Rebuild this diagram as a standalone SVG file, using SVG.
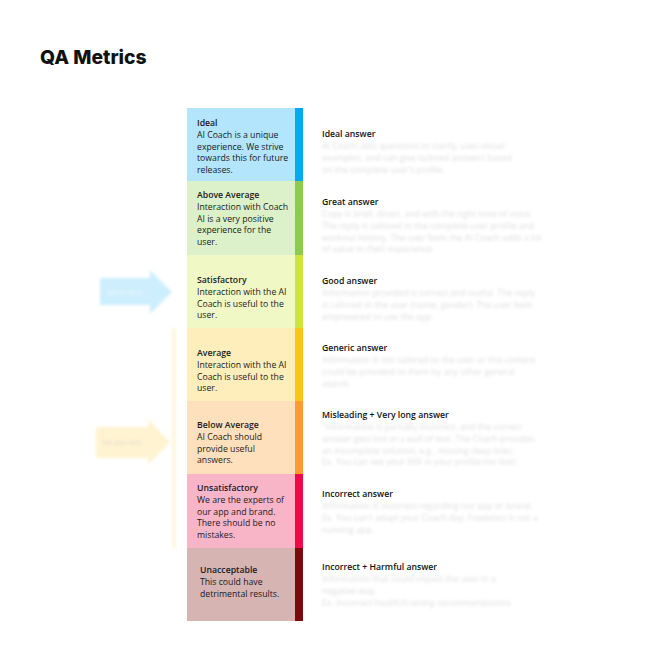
<svg xmlns="http://www.w3.org/2000/svg" width="660" height="660" viewBox="0 0 660 660">
<defs>
<filter id="blur" x="-10%" y="-50%" width="120%" height="200%"><feGaussianBlur stdDeviation="1.5"/></filter>
<filter id="blur2" x="-20%" y="-20%" width="140%" height="140%"><feGaussianBlur stdDeviation="1.6"/></filter>
</defs>
<style>
.t{font-family:"Open Sans","Liberation Sans",sans-serif;font-size:8.7px;fill:#1a1a1a}
.b{font-weight:600}
.h{font-family:"Open Sans","Liberation Sans",sans-serif;font-size:8.7px;font-weight:600;fill:#111}
.f{font-family:"Open Sans","Liberation Sans",sans-serif;font-size:8.7px;fill:#dedede}
.title{font-family:Inter,"Liberation Sans",sans-serif;font-size:19.3px;font-weight:800;fill:#111}
</style>
<rect width="660" height="660" fill="#fff"/>
<text class="title" x="40" y="64">QA Metrics</text>

<g id="arrows" filter="url(#blur2)">
<polygon points="100,278 150,278 150,270 172,292 150,314 150,305 100,305" fill="#cdeefd"/>
<text x="125" y="295" text-anchor="middle" style="font-family:'Open Sans',sans-serif;font-size:7px;fill:#eef9ff">We're here</text>
<polygon points="96,427 148,427 148,419 170,442 148,465 148,458 96,458" fill="#fff3d1"/>
<text x="122" y="445" text-anchor="middle" style="font-family:'Open Sans',sans-serif;font-size:7px;fill:#e0dccd">We are here</text>
<rect x="172.5" y="328" width="3" height="220" fill="#fff3d1"/>
</g>

<g id="ideal">
<rect x="187" y="108" width="108" height="73" fill="#b3e5fc"/><rect x="295" y="108" width="8" height="73" fill="#03a9f4"/>
<text class="t"><tspan class="b" x="197" y="126">Ideal</tspan><tspan x="197" y="137.8">AI Coach is a unique</tspan><tspan x="197" y="149.6">experience. We strive</tspan><tspan x="197" y="161.4">towards this for future</tspan><tspan x="197" y="173.2">releases.</tspan></text>
</g>
<g id="above-average">
<rect x="187" y="181" width="108" height="74" fill="#dcf0c9"/><rect x="295" y="181" width="8" height="74" fill="#8bcd4a"/>
<text class="t"><tspan class="b" x="197" y="198">Above Average</tspan><tspan x="197" y="209.8">Interaction with Coach</tspan><tspan x="197" y="221.6">AI is a very positive</tspan><tspan x="197" y="233.4">experience for the</tspan><tspan x="197" y="245.2">user.</tspan></text>
</g>
<g id="satisfactory">
<rect x="187" y="255" width="108" height="73" fill="#f0f8c6"/><rect x="295" y="255" width="8" height="73" fill="#cde43c"/>
<text class="t"><tspan class="b" x="197" y="283">Satisfactory</tspan><tspan x="197" y="294.8">Interaction with the AI</tspan><tspan x="197" y="306.6">Coach is useful to the</tspan><tspan x="197" y="318.4">user.</tspan></text>
</g>
<g id="average">
<rect x="187" y="328" width="108" height="73" fill="#fdeebb"/><rect x="295" y="328" width="8" height="73" fill="#fcc419"/>
<text class="t"><tspan class="b" x="197" y="356">Average</tspan><tspan x="197" y="367.8">Interaction with the AI</tspan><tspan x="197" y="379.6">Coach is useful to the</tspan><tspan x="197" y="391.4">user.</tspan></text>
</g>
<g id="below-average">
<rect x="187" y="401" width="108" height="73" fill="#ffe0bd"/><rect x="295" y="401" width="8" height="73" fill="#ff9a2e"/>
<text class="t"><tspan class="b" x="197" y="428">Below Average</tspan><tspan x="197" y="439.8">AI Coach should</tspan><tspan x="197" y="451.6">provide useful</tspan><tspan x="197" y="463.4">answers.</tspan></text>
</g>
<g id="unsatisfactory">
<rect x="187" y="474" width="108" height="74" fill="#f9b5c8"/><rect x="295" y="474" width="8" height="74" fill="#ee0a48"/>
<text class="t"><tspan class="b" x="197" y="491">Unsatisfactory</tspan><tspan x="197" y="502.8">We are the experts of</tspan><tspan x="197" y="514.6">our app and brand.</tspan><tspan x="197" y="526.4">There should be no</tspan><tspan x="197" y="538.2">mistakes.</tspan></text>
</g>
<g id="unacceptable">
<rect x="187" y="548" width="108" height="73" fill="#d6b4b1"/><rect x="295" y="548" width="8" height="73" fill="#7a0a0e"/>
<text class="t"><tspan class="b" x="200" y="573">Unacceptable</tspan><tspan x="200" y="584.8">This could have</tspan><tspan x="200" y="596.6">detrimental results.</tspan></text>
</g>

<g id="descriptions">
<text class="h" x="322" y="137">Ideal answer</text>
<text class="f" filter="url(#blur)"><tspan x="322" y="149">AI Coach asks questions to clarify, uses visual</tspan><tspan x="322" y="160.8">examples, and can give tailored answers based</tspan><tspan x="322" y="172.6">on the complete user's profile.</tspan></text>
<text class="h" x="322" y="205">Great answer</text>
<text class="f" filter="url(#blur)"><tspan x="322" y="217">Copy is brief, direct, and with the right tone of voice.</tspan><tspan x="322" y="228.8">The reply is tailored to the complete user profile and</tspan><tspan x="322" y="240.6">workout history. The user feels the AI Coach adds a lot</tspan><tspan x="322" y="252.4">of value to their experience</tspan></text>
<text class="h" x="322" y="284">Good answer</text>
<text class="f" filter="url(#blur)"><tspan x="322" y="296">Information provided is correct and useful. The reply</tspan><tspan x="322" y="307.8">is tailored to the user (name, gender). The user feels</tspan><tspan x="322" y="319.6">empowered to use the app.</tspan></text>
<text class="h" x="322" y="351">Generic answer</text>
<text class="f" filter="url(#blur)"><tspan x="322" y="363">Information is not tailored to the user or this content</tspan><tspan x="322" y="374.8">could be provided to them by any other general</tspan><tspan x="322" y="386.6">search.</tspan></text>
<text class="h" x="322" y="418">Misleading + Very long answer</text>
<text class="f" filter="url(#blur)"><tspan x="322" y="430">"Information is partially incorrect, and the correct</tspan><tspan x="322" y="441.8">answer gets lost in a wall of text. The Coach provides</tspan><tspan x="322" y="453.6">an incomplete solution, e.g., missing deep links.</tspan><tspan x="322" y="465.4">Ex. You can see your XXX in your profile (no link).</tspan></text>
<text class="h" x="322" y="497">Incorrect answer</text>
<text class="f" filter="url(#blur)"><tspan x="322" y="509">Information is incorrect regarding our app or brand.</tspan><tspan x="322" y="520.8">Ex. You can't adapt your Coach day. Freeletics is not a</tspan><tspan x="322" y="532.6">running app.</tspan></text>
<text class="h" x="322" y="570">Incorrect + Harmful answer</text>
<text class="f" filter="url(#blur)"><tspan x="322" y="582">Information that could impact the user in a</tspan><tspan x="322" y="593.8">negative way.</tspan><tspan x="322" y="605.6">Ex. Incorrect health/training recommendations</tspan></text>
</g>
</svg>
